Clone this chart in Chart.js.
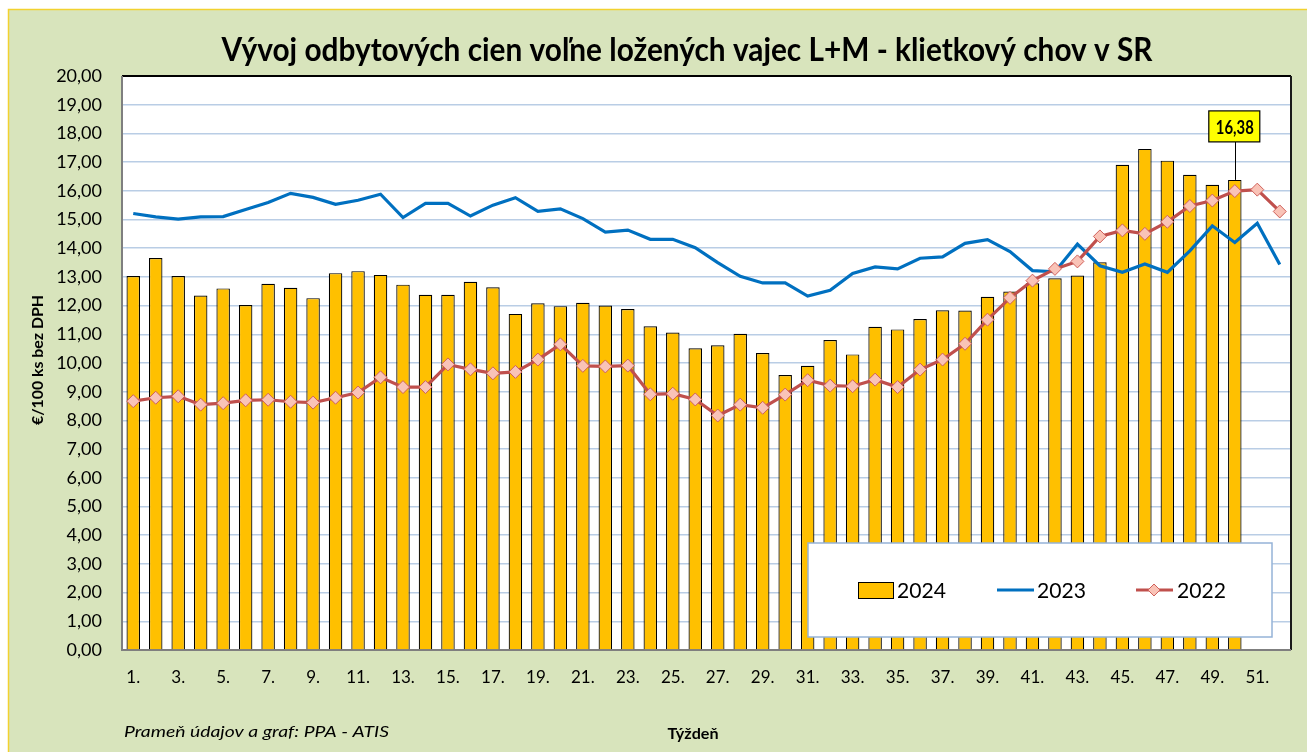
<!DOCTYPE html>
<html><head><meta charset="utf-8">
<script src="https://cdn.jsdelivr.net/npm/chart.js@4.4.1/dist/chart.umd.min.js"></script>
<style>html,body{margin:0;padding:0;background:#fff;}canvas{display:block;}</style>
</head><body>
<canvas id="c" width="1307" height="752"></canvas>
<script>
const weeks = ['1.','2.','3.','4.','5.','6.','7.','8.','9.','10.','11.','12.','13.','14.','15.','16.','17.','18.','19.','20.','21.','22.','23.','24.','25.','26.','27.','28.','29.','30.','31.','32.','33.','34.','35.','36.','37.','38.','39.','40.','41.','42.','43.','44.','45.','46.','47.','48.','49.','50.','51.','52.'];
const v2024 = [13.03,13.66,13.03,12.35,12.60,12.02,12.76,12.62,12.26,13.13,
               13.20,13.07,12.73,12.38,12.38,12.83,12.64,11.71,12.08,11.98,
               12.10,12.00,11.88,11.28,11.06,10.51,10.62,11.02,10.35,9.58,
               9.90,10.80,10.30,11.26,11.17,11.53,11.84,11.83,12.31,12.49,
               12.78,12.95,13.05,13.51,16.91,17.46,17.05,16.56,16.21,16.38,
               null,null];
const v2023 = [15.21,15.09,15.01,15.09,15.10,15.35,15.59,15.91,15.77,15.53,
               15.67,15.88,15.07,15.56,15.56,15.12,15.50,15.76,15.28,15.37,
               15.03,14.56,14.63,14.31,14.31,14.02,13.50,13.02,12.79,12.79,
               12.33,12.53,13.12,13.35,13.28,13.65,13.70,14.17,14.30,13.88,
               13.22,13.18,14.14,13.39,13.16,13.45,13.16,13.91,14.78,14.20,
               14.87,13.43];
const v2022 = [8.67,8.79,8.84,8.55,8.60,8.70,8.72,8.65,8.62,8.79,
               8.97,9.50,9.16,9.16,9.95,9.78,9.64,9.69,10.12,10.65,
               9.90,9.88,9.91,8.91,8.93,8.73,8.17,8.55,8.44,8.90,
               9.40,9.21,9.19,9.42,9.16,9.77,10.12,10.67,11.51,12.27,
               12.87,13.28,13.54,14.41,14.62,14.50,14.92,15.47,15.66,15.99,
               16.04,15.28];
const titleText = 'Vývoj odbytových cien voľne ložených vajec L+M - klietkový chov v SR';
const yTitle = '€/100 ks bez DPH';
const xTitle = 'Týždeň';
const sourceText = 'Prameň údajov a graf: PPA - ATIS';
const highlightIndex = 49;

const FONT = 'Lato, "Open Sans", sans-serif';
function fmt(v){ return v.toFixed(2).replace('.', ','); }
function drawFitted(ctx, text, x, y, font, targetW, align){
  ctx.save();
  ctx.font = font;
  const w = ctx.measureText(text).width;
  const sx = targetW / w;
  ctx.translate(x, y);
  ctx.scale(sx, 1);
  ctx.textAlign = align || 'left';
  ctx.fillText(text, 0, 0);
  ctx.restore();
}

const bgPlugin = {
  id:'bg',
  beforeDraw(chart){
    const c = chart.ctx, a = chart.chartArea;
    c.save();
    c.fillStyle = '#ffffff'; c.fillRect(0,0,chart.width,chart.height);
    c.fillStyle = '#D8E4BC'; c.fillRect(8,9,chart.width-8,chart.height-9);
    c.strokeStyle = '#F2D230'; c.lineWidth = 1.5;
    c.beginPath(); c.moveTo(8.5,chart.height); c.lineTo(8.5,9.5); c.lineTo(chart.width,9.5); c.stroke();
    c.fillStyle = '#ffffff'; c.fillRect(a.left,a.top,a.right-a.left,a.bottom-a.top);
    c.restore();
  },
  beforeDatasetsDraw(chart){
    const c = chart.ctx, a = chart.chartArea;
    c.save();
    c.lineWidth = 2;
    c.strokeStyle = '#000000';
    c.beginPath(); c.moveTo(a.left, a.top); c.lineTo(a.right, a.top); c.stroke();
    c.strokeStyle = '#1a1a1a';
    c.beginPath(); c.moveTo(a.right, a.top); c.lineTo(a.right, a.bottom); c.stroke();
    c.strokeStyle = '#7f7f7f';
    c.beginPath(); c.moveTo(a.left, a.top); c.lineTo(a.left, a.bottom); c.lineTo(a.right, a.bottom); c.stroke();
    c.restore();
  },
  afterDraw(chart){
    const c = chart.ctx;
    c.save();
    c.fillStyle = '#000';
    c.textBaseline = 'alphabetic';
    drawFitted(c, titleText, 687, 61, 'bold 32px '+FONT, 931, 'center');
    // y title
    c.save();
    c.translate(43, 360);
    c.rotate(-Math.PI/2);
    drawFitted(c, yTitle, 0, 0, 'bold 16px '+FONT, 130, 'center');
    c.restore();
    drawFitted(c, xTitle, 693, 739, 'bold 16px '+FONT, 51, 'center');
    drawFitted(c, sourceText, 124, 737, 'italic 16px '+FONT, 265, 'left');

    // legend
    const lx = 808, ly = 543, lw = 464, lh = 94;
    c.fillStyle = '#fff'; c.fillRect(lx, ly, lw, lh);
    c.strokeStyle = '#95B3D7'; c.lineWidth = 1.5; c.strokeRect(lx, ly, lw, lh);
    const ds = chart.data.datasets;
    const d24 = ds[2], d23 = ds[1], d22 = ds[0];
    const cy = 590;
    c.fillStyle = d24.backgroundColor; c.fillRect(858, 582, 35, 16);
    c.strokeStyle = '#000'; c.lineWidth = 1; c.strokeRect(858.5, 582.5, 35, 16);
    c.fillStyle = '#000';
    drawFitted(c, d24.label, 897, 598, '22px '+FONT, 49, 'left');
    c.strokeStyle = d23.borderColor; c.lineWidth = 3;
    c.beginPath(); c.moveTo(997, cy); c.lineTo(1034, cy); c.stroke();
    drawFitted(c, d23.label, 1037, 598, '22px '+FONT, 49, 'left');
    c.strokeStyle = d22.borderColor; c.lineWidth = 3;
    c.beginPath(); c.moveTo(1136, cy); c.lineTo(1173, cy); c.stroke();
    c.beginPath(); c.moveTo(1154, cy-6); c.lineTo(1160, cy); c.lineTo(1154, cy+6); c.lineTo(1148, cy); c.closePath();
    c.fillStyle = d22.pointBackgroundColor; c.fill();
    c.strokeStyle = d22.pointBorderColor; c.lineWidth = 1; c.stroke();
    c.fillStyle = '#000';
    drawFitted(c, d22.label, 1177, 598, '22px '+FONT, 49, 'left');

    // data label for highlighted bar
    const bar = chart.getDatasetMeta(2).data[highlightIndex];
    const val = v2024[highlightIndex];
    const bx = bar.x, by = bar.y;
    c.strokeStyle = '#000'; c.lineWidth = 1;
    c.beginPath(); c.moveTo(Math.round(bx)+0.5, by-38); c.lineTo(Math.round(bx)+0.5, by); c.stroke();
    c.fillStyle = '#FFFF00';
    c.fillRect(bx-26, by-69, 51, 31);
    c.strokeStyle = '#000'; c.lineWidth = 1.2;
    c.strokeRect(bx-26, by-69, 51, 31);
    c.fillStyle = '#000';
    drawFitted(c, fmt(val), bx, by-46, 'bold 19px '+FONT, 38, 'center');
    c.restore();
  }
};

new Chart(document.getElementById('c'), {
  type:'bar',
  data:{
    labels: weeks,
    datasets:[
      {type:'line', label:'2022', data:v2022, borderColor:'#C0504D', borderWidth:3.2,
       pointStyle:'rectRot', pointRadius:6.5, pointBackgroundColor:'#F9C3B7', pointBorderColor:'#D0605A',
       pointBorderWidth:1, tension:0, order:1},
      {type:'line', label:'2023', data:v2023, borderColor:'#0070C0', borderWidth:3.2,
       pointRadius:0, tension:0, order:2},
      {type:'bar', label:'2024', data:v2024, backgroundColor:'#FFC000', borderColor:'#000000',
       borderWidth:1.2, barPercentage:0.6, categoryPercentage:1, order:3}
    ]
  },
  options:{
    responsive:false,
    animation:false,
    devicePixelRatio:1,
    plugins:{legend:{display:false}, tooltip:{enabled:false}, title:{display:false}},
    layout:{padding:{left:0, right:16, top:76, bottom:0}},
    scales:{
      x:{
        grid:{display:false, drawTicks:false},
        border:{display:false},
        ticks:{autoSkip:false, maxRotation:0, padding:17, color:'#000',
               font:{family:FONT, size:17},
               callback(v, i){ return i % 2 === 0 ? weeks[i] : ''; }},
        afterFit(s){ s.height = 102; }
      },
      y:{
        min:0, max:20,
        grid:{color:'#B9CDE5', lineWidth:1.5, drawTicks:false},
        border:{display:false},
        ticks:{stepSize:1, padding:20, color:'#000', font:{family:FONT, size:18},
               callback(v){ return fmt(v); }},
        afterFit(s){ s.width = 122; }
      }
    }
  },
  plugins:[bgPlugin]
});
</script>
</body></html>
